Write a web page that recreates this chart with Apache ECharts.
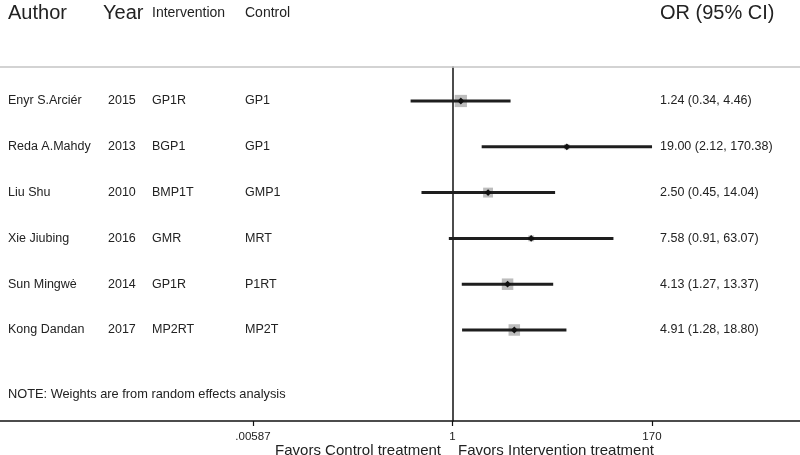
<!DOCTYPE html>
<html>
<head>
<meta charset="utf-8">
<script src="https://cdn.jsdelivr.net/npm/echarts@6/dist/echarts.min.js"></script>
<style>html,body{margin:0;padding:0;background:#fff}#c{width:800px;height:455px}</style>
</head>
<body>
<div id="c"></div>
<script>
const authors = ["Enyr S.Arciér", "Reda A.Mahdy", "Liu Shu", "Xie Jiubing", "Sun Mingwė", "Kong Dandan"];
const years = ["2015", "2013", "2010", "2016", "2014", "2017"];
const interventions = ["GP1R", "BGP1", "BMP1T", "GMR", "GP1R", "MP2RT"];
const controls = ["GP1", "GP1", "GMP1", "MRT", "P1RT", "MP2T"];
const oddsRatios = [1.24, 19.00, 2.50, 7.58, 4.13, 4.91];
const lowerCI = [0.34, 2.12, 0.45, 0.91, 1.27, 1.28];
const upperCI = [4.46, 170.38, 14.04, 63.07, 13.37, 18.80];
const weights = [26, 5, 17, 6, 23, 23];
const tickValues = [0.00587, 1, 170];
const tickLabels = [".00587", "1", "170"];

const FONT = "'Liberation Sans', Arial, Helvetica, sans-serif";
const lg = v => Math.log10(v);
const chart = echarts.init(document.getElementById('c'), null, {renderer: 'canvas'});

const rows = authors.map((a, i) => [i]);

const option = {
  animation: false,
  grid: {left: 0, right: 0, top: 67, bottom: 34},
  xAxis: {
    type: 'value',
    min: -5.060, max: 3.886,
    axisLine: {show: true, onZero: false, lineStyle: {color: '#111', width: 1.5}},
    splitLine: {show: false},
    axisTick: {show: true, length: 5, lineStyle: {color: '#111', width: 1.2}, customValues: tickValues.map(lg)},
    axisLabel: {
      show: true, margin: 10, color: '#222', fontSize: 11.5, fontFamily: FONT,
      customValues: tickValues.map(lg),
      formatter: v => {
        let best = 0, d = Infinity;
        tickValues.forEach((t, k) => { const dd = Math.abs(lg(t) - v); if (dd < d) { d = dd; best = k; } });
        return tickLabels[best];
      }
    }
  },
  yAxis: {
    type: 'value', inverse: true, min: -0.742, max: 6.987,
    axisLine: {show: true, onZero: true, lineStyle: {color: '#111', width: 1.5}},
    axisTick: {show: false}, axisLabel: {show: false}, splitLine: {show: false}
  },
  graphic: [
    {type: 'line', shape: {x1: 0, y1: 67, x2: 800, y2: 67}, style: {stroke: '#c4c4c4', lineWidth: 1.5}, z: 10},
    {type: 'text', left: 8, top: 3, style: {text: 'Author', font: '20px ' + FONT, fill: '#222'}},
    {type: 'text', left: 103, top: 3, style: {text: 'Year', font: '20px ' + FONT, fill: '#222'}},
    {type: 'text', left: 152, top: 6, style: {text: 'Intervention', font: '14px ' + FONT, fill: '#222'}},
    {type: 'text', left: 245, top: 6, style: {text: 'Control', font: '14px ' + FONT, fill: '#222'}},
    {type: 'text', left: 660, top: 3, style: {text: 'OR (95% CI)', font: '20px ' + FONT, fill: '#222'}},
    {type: 'text', left: 8, top: 388, style: {text: 'NOTE: Weights are from random effects analysis', font: '12.8px ' + FONT, fill: '#222'}},
    {type: 'text', right: 359, top: 443, style: {text: 'Favors Control treatment', font: '15px ' + FONT, fill: '#222'}},
    {type: 'text', left: 458, top: 443, style: {text: 'Favors Intervention treatment', font: '15px ' + FONT, fill: '#222'}}
  ],
  series: [
    {
      type: 'custom',
      data: rows,
      clip: false,
      renderItem: (params, api) => {
        const i = api.value(0);
        const y = api.coord([0, i])[1];
        const txt = (t, x) => ({type: 'text', style: {text: t, x: x, y: y, font: '12.5px ' + FONT, fill: '#222', textVerticalAlign: 'middle'}});
        const orTxt = oddsRatios[i].toFixed(2) + ' (' + lowerCI[i].toFixed(2) + ', ' + upperCI[i].toFixed(2) + ')';
        return {type: 'group', children: [
          txt(authors[i], 8), txt(years[i], 108), txt(interventions[i], 152), txt(controls[i], 245), txt(orTxt, 660)
        ]};
      }
    },
    {
      type: 'custom',
      data: rows,
      clip: false,
      z: 5,
      renderItem: (params, api) => {
        const i = api.value(0);
        const p1 = api.coord([lg(lowerCI[i]), i]);
        const p2 = api.coord([lg(upperCI[i]), i]);
        const pc = api.coord([lg(oddsRatios[i]), i]);
        const s = Math.sqrt(weights[i]) * 2.4;
        const d = 3.4;
        return {type: 'group', children: [
          {type: 'rect', shape: {x: pc[0] - s / 2, y: pc[1] - s / 2, width: s, height: s}, style: {fill: '#bdbdbd'}},
          {type: 'line', shape: {x1: p1[0], y1: p1[1], x2: p2[0], y2: p2[1]}, style: {stroke: '#1e1e1e', lineWidth: 3}},
          {type: 'polygon', shape: {points: [[pc[0] - d, pc[1]], [pc[0], pc[1] - d], [pc[0] + d, pc[1]], [pc[0], pc[1] + d]]}, style: {fill: '#111'}}
        ]};
      }
    }
  ]
};
chart.setOption(option);
</script>
</body>
</html>
